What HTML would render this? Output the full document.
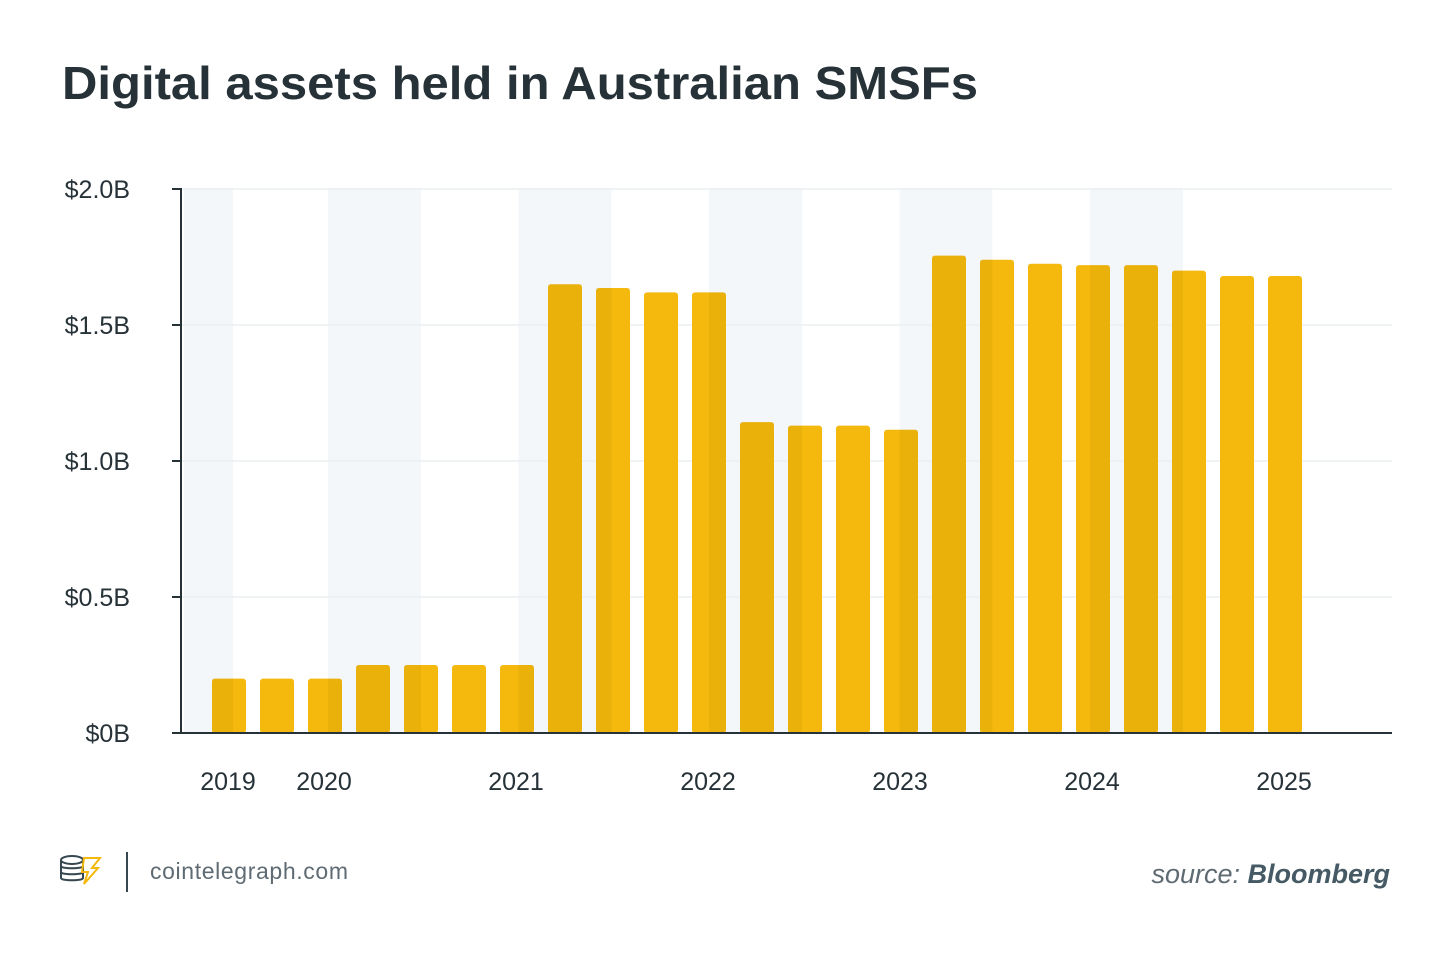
<!DOCTYPE html>
<html><head><meta charset="utf-8"><style>
body{margin:0;width:1450px;height:953px;background:#fff;font-family:"Liberation Sans",sans-serif;overflow:hidden}
</style></head><body>
<svg width="1450" height="953">
<text x="62" y="99" font-size="46" font-weight="bold" fill="#263238" textLength="916" lengthAdjust="spacingAndGlyphs">Digital assets held in Australian SMSFs</text>
<g id="bands"></g><g id="grid"></g><g id="bars"></g><g id="overlay"></g><g id="axes"></g>
<g>
<ellipse cx="72" cy="860" rx="11" ry="4" fill="none" stroke="#37474f" stroke-width="2"/>
<path d="M61 860v18c0 3 22 3 22 0v-18M61 866c0 3 22 3 22 0M61 872c0 3 22 3 22 0" fill="none" stroke="#37474f" stroke-width="2"/>
<path d="M84 858h16l-8 10h6l-14 16 4-12h-6z" fill="none" stroke="#f4b90c" stroke-width="2"/>
</g>
<line x1="127" y1="852" x2="127" y2="892" stroke="#37474f" stroke-width="2"/>
<text x="150" y="879" font-size="23" fill="#5f6b72" textLength="198">cointelegraph.com</text>
<text x="1390" y="883" font-size="27" font-style="italic" text-anchor="end" fill="#5f6b72">source: <tspan font-weight="bold" fill="#455a64">Bloomberg</tspan></text>
</svg>
<script>
const values=[0.2,0.2,0.2,0.25,0.25,0.25,0.25,1.65,1.636,1.62,1.62,1.143,1.13,1.13,1.115,1.755,1.74,1.725,1.72,1.72,1.70,1.68,1.68];
const yTicks=[0,0.5,1.0,1.5,2.0];
const yTickLabels=["$0B","$0.5B","$1.0B","$1.5B","$2.0B"];
const yearLabels=["2019","2020","2021","2022","2023","2024","2025"];
const yearBarIndex=[0,2,6,10,14,18,22];
const NS="http://www.w3.org/2000/svg";
const y0=733,pxPer=272,x0=229,step=48,bw=34;
const Y=v=>y0-v*pxPer, X=i=>x0+i*step;
function mk(t,a,p){const e=document.createElementNS(NS,t);for(const k in a)e.setAttribute(k,a[k]);p.appendChild(e);return e;}
const bands=document.getElementById('bands'),grid=document.getElementById('grid'),bars=document.getElementById('bars'),ov=document.getElementById('overlay'),axes=document.getElementById('axes');
const bandRanges=[[184,233]];
for(let k=0;k<5;k++){const s=328+k*190.5;bandRanges.push([s,s+93]);}
bandRanges.forEach(r=>{
 const b=mk('rect',{x:r[0],y:188,width:r[1]-r[0],height:545,fill:'#f4f7f9'},bands);
 
 
});
yTicks.forEach((v,i)=>{
 if(v>0){const g=mk('line',{x1:181,x2:1392,y1:Y(v),y2:Y(v),stroke:'#eceff1','stroke-width':1.5},grid);
 
 }
 mk('line',{x1:172,x2:181,y1:Y(v),y2:Y(v),stroke:'#263238','stroke-width':2},axes);
 const t=mk('text',{x:130,y:Y(v)+9,'font-size':25,'text-anchor':'end',fill:'#263238'},axes);
 t.textContent=yTickLabels[i];
 
 
});
values.forEach((v,i)=>{
 const bx=X(i)-bw/2;
 const r=mk('rect',{x:bx,y:Y(v),width:bw,height:y0-Y(v),rx:3,fill:'#f4b90c'},bars);
 
 
 bandRanges.forEach(b=>{
  const a=Math.max(bx,b[0]),e=Math.min(bx+bw,b[1]);
  if(e>a) mk('rect',{x:a,y:Y(v),width:e-a,height:y0-Y(v),fill:'rgba(120,80,0,0.07)'},ov);
 });
});
mk('line',{x1:181,x2:181,y1:188,y2:734,stroke:'#263238','stroke-width':2},axes);
const xa=mk('line',{x1:172,x2:1392,y1:733,y2:733,stroke:'#263238','stroke-width':2},axes);


yearLabels.forEach((l,i)=>{
 const t=mk('text',{x:X(yearBarIndex[i])-1,y:790,'font-size':25,'text-anchor':'middle',fill:'#263238'},axes);
 t.textContent=l;
 
 
});
</script>
</body></html>
